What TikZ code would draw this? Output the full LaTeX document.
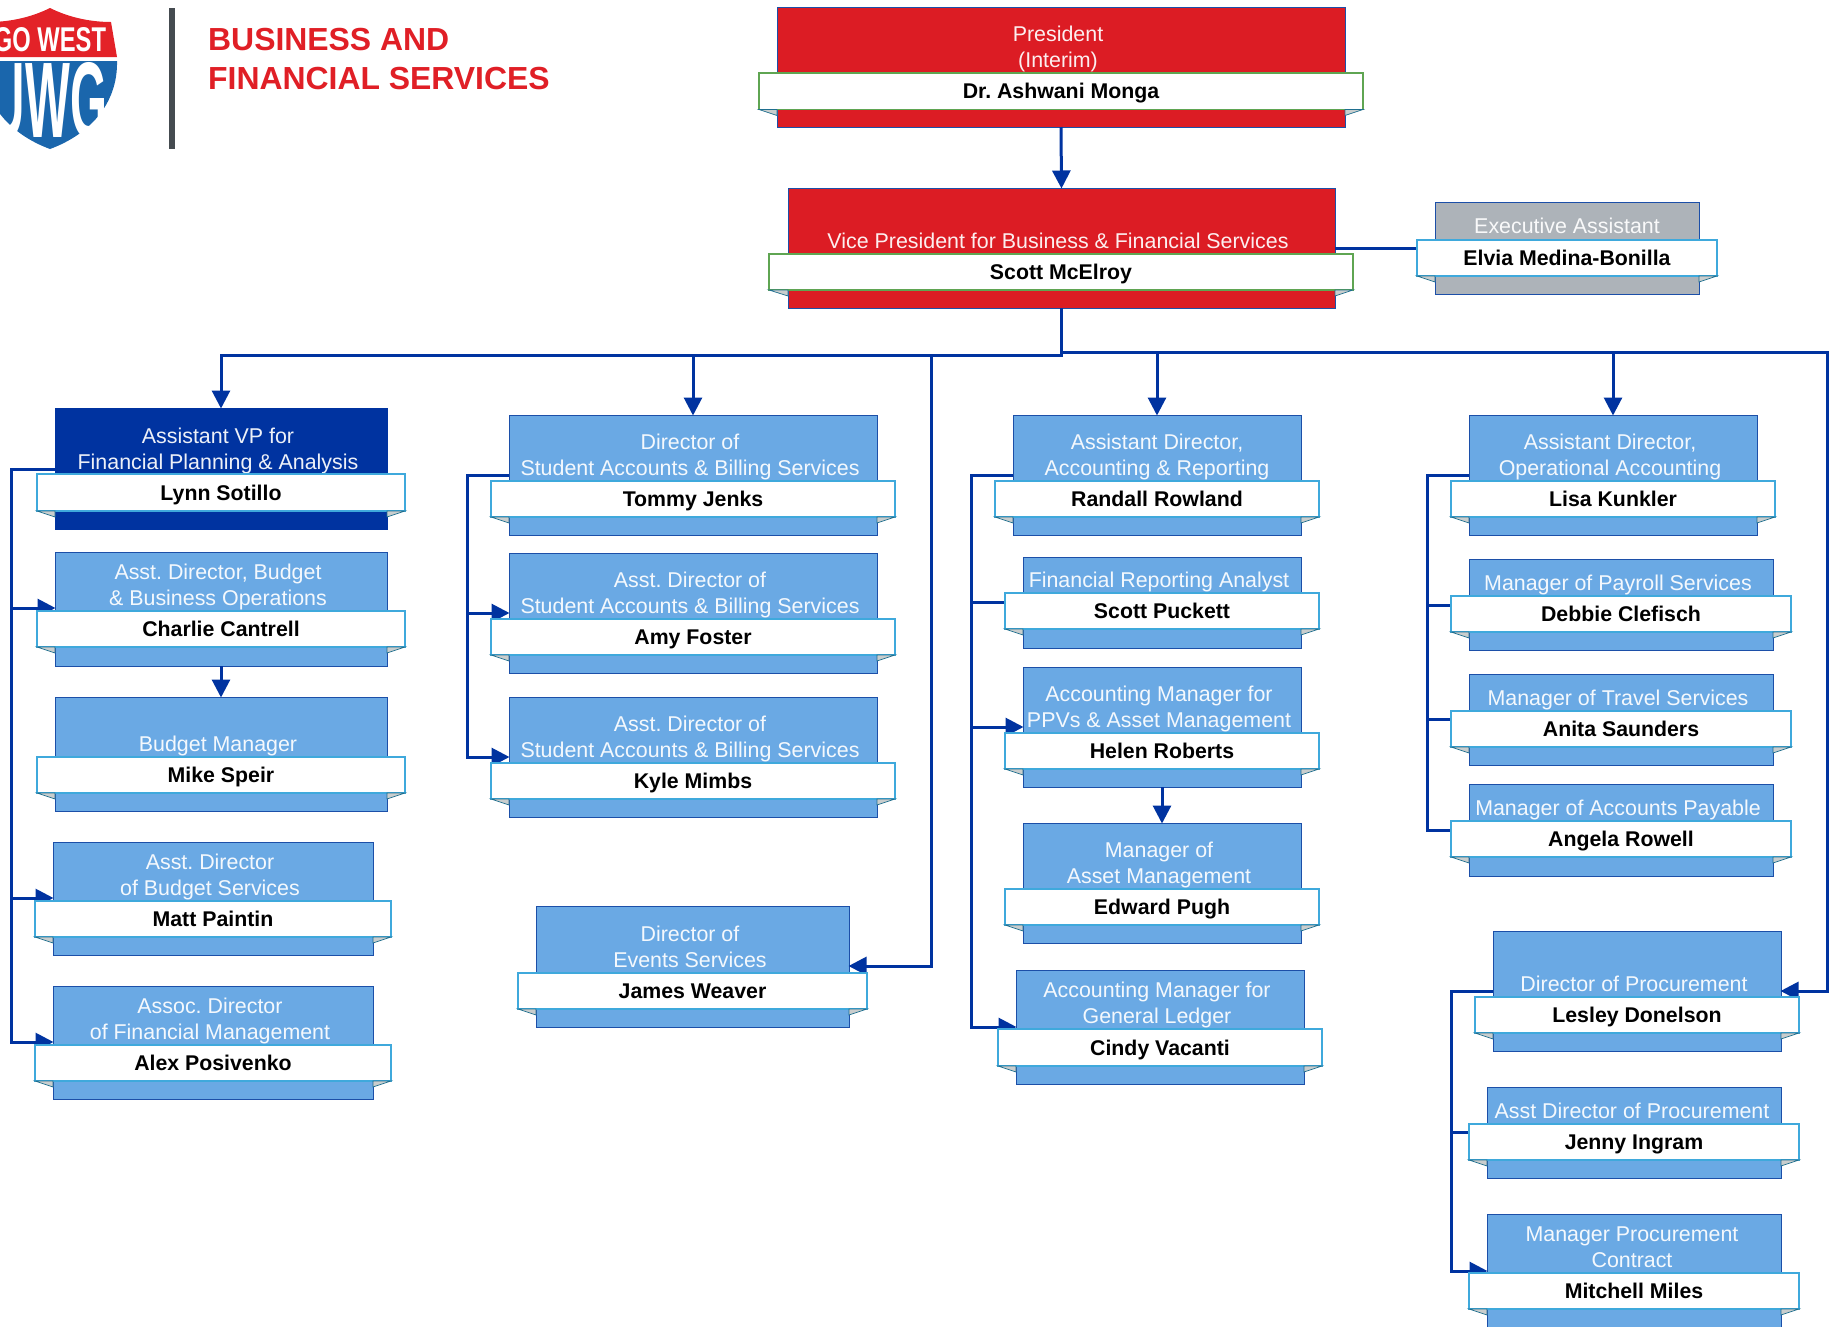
\documentclass[tikz,border=0pt]{standalone}
\usepackage{fontspec}
\usepackage{graphicx}
\setmainfont{Liberation Sans}
\usetikzlibrary{arrows.meta}
\pgfdeclarelayer{top}
\pgfsetlayers{main,top}
\definecolor{uwgred}{HTML}{DC1C24}
\definecolor{uwgnavy}{HTML}{0033A0}
\definecolor{uwgsky}{HTML}{6AA9E4}
\definecolor{uwggrey}{HTML}{ADB3B9}
\definecolor{edgeblue}{HTML}{1C4FA8}
\definecolor{ribbonblue}{HTML}{3FA9DC}
\definecolor{ribbongreen}{HTML}{5FA552}
\definecolor{foldgrey}{HTML}{C9CDCD}
\definecolor{foldedge}{HTML}{1F6F8F}
\definecolor{headred}{HTML}{E01F26}
\definecolor{shieldred}{HTML}{E32228}
\definecolor{shieldblue}{HTML}{1A66AC}
\definecolor{bargrey}{HTML}{454B50}
\tikzset{
  cardbox/.style={draw=edgeblue,line width=1pt,inner sep=0pt,outer sep=0pt},
  sky/.style={fill=uwgsky},
  navy/.style={fill=uwgnavy,draw=uwgnavy},
  redcard/.style={fill=uwgred},
  greycard/.style={fill=uwggrey},
  ribbon/.style={draw=ribbonblue,fill=white,line width=1.4pt,inner sep=0pt,outer sep=0pt,
    text=black,font=\fontsize{21.3}{26}\selectfont\bfseries,text height=15.5pt,text depth=.5pt},
  greenribbon/.style={draw=ribbongreen},
  blueribbon/.style={},
  titletext/.style={text=white,font=\fontsize{21.4}{26}\selectfont,align=center,anchor=base,inner sep=0pt,opacity=.93},
  fold/.style={fill=foldgrey,draw=foldedge,line width=.7pt},
  conn/.style={draw=uwgnavy,line width=3pt,miter limit=10},
  tip/.style={conn,-{Triangle[length=18pt,width=18pt]},shorten >=-.5pt},
}
\def\setB#1,#2,#3,#4;{\def\Bl{#1}\def\Br{#2}\def\Bt{#3}\def\Bb{#4}}
\def\setN#1,#2,#3,#4;{\def\Nl{#1}\def\Nr{#2}\def\Nt{#3}\def\Nb{#4}}
% id, card style, box l,r,t,b, ribbon l,r,t,b, ribbon style, title cx, title base, title, name
\newcommand\card[9]{%
  \setB#3;\setN#4;%
  \pgfmathsetmacro\Bw{\Br-\Bl}\pgfmathsetmacro\Bh{\Bb-\Bt}%
  \pgfmathsetmacro\Nw{\Nr-\Nl}\pgfmathsetmacro\Nh{\Nb-\Nt}%
  \node[cardbox,#2,minimum width=\Bw pt,minimum height=\Bh pt] (#1B) at ({(\Bl+\Br)/2},{(\Bt+\Bb)/2}) {};
  \node[titletext] (#1T) at (#6,#7) {#8};
  \begin{pgfonlayer}{top}
    \node[ribbon,#5,minimum width=\Nw pt,minimum height=\Nh pt] (#1N) at ({(\Nl+\Nr)/2},{(\Nt+\Nb)/2}) {#9};
    \draw[fold] (#1N.south west) -- (#1N.south west -| #1B.west) -- ++(0,6) -- cycle;
    \draw[fold] (#1N.south east) -- (#1N.south east -| #1B.east) -- ++(0,6) -- cycle;
  \end{pgfonlayer}}
\frenchspacing
\begin{document}
\begin{tikzpicture}[x=1pt,y=-1pt]
\useasboundingbox (0,0) rectangle (1829,1326);
% logo
\begin{scope}
\clip (0,0) rectangle (130,155);
\fill[shieldred] (50,8) .. controls (70,18) and (92,22) .. (111,22) -- (117,57) -- (-17,57) -- (-11,22) .. controls (8,22) and (30,18) .. (50,8) -- cycle;
\fill[shieldblue] (117,61) .. controls (118,105) and (88,135) .. (50,149) .. controls (12,135) and (-18,105) .. (-17,61) -- cycle;
\node[text=white,inner sep=0pt,anchor=center] (logoA) at (50,40) {\resizebox{112pt}{24pt}{\bfseries GO WEST}};
\node[text=white,inner sep=0pt,anchor=center] (logoB) at (49,100) {\resizebox{116pt}{75pt}{\bfseries UWG}};
\end{scope}
\fill[bargrey] (168.5,8) rectangle (175,149);
\node[text=headred,font=\fontsize{31.9}{39}\selectfont\bfseries,anchor=base west,inner sep=0pt,align=left] (head) at (208,89) {BUSINESS AND\\FINANCIAL SERVICES};
% cards
\card{pres}{redcard}{777,1345,7,127}{759,1363,73,109.5}{greenribbon}{1058}{67}{President\\(Interim)}{Dr. Ashwani Monga}
\card{vp}{redcard}{788,1335,188,308}{769,1353,254,290}{greenribbon}{1058}{248}{Vice President for Business \& Financial Services}{Scott McElroy}
\card{exec}{greycard}{1435,1699,202,294}{1417,1717,240,276}{blueribbon}{1567}{233}{Executive Assistant}{Elvia Medina-Bonilla}
\card{lynn}{navy}{55,387,408,529}{37,405,474,511}{blueribbon}{218}{469}{Assistant VP for\\Financial Planning \& Analysis}{Lynn Sotillo}
\card{charlie}{sky}{55,387,552,666}{37,405,611,647}{blueribbon}{218}{605}{Asst. Director, Budget\\\& Business Operations}{Charlie Cantrell}
\card{mike}{sky}{55,387,697,811}{37,405,757,793}{blueribbon}{218}{751}{Budget Manager}{Mike Speir}
\card{matt}{sky}{53,373,842,955}{35,391,901,937}{blueribbon}{210}{895}{Asst. Director\\of Budget Services}{Matt Paintin}
\card{alex}{sky}{53,373,986,1099}{35,391,1045,1081}{blueribbon}{210}{1039}{Assoc. Director\\of Financial Management}{Alex Posivenko}
\card{tommy}{sky}{509,877,415,535}{491,895,481,517}{blueribbon}{690}{475}{Director of\\Student Accounts \& Billing Services}{Tommy Jenks}
\card{amy}{sky}{509,877,553,673}{491,895,619,655}{blueribbon}{690}{613}{Asst. Director of\\Student Accounts \& Billing Services}{Amy Foster}
\card{kyle}{sky}{509,877,697,817}{491,895,763,799}{blueribbon}{690}{757}{Asst. Director of\\Student Accounts \& Billing Services}{Kyle Mimbs}
\card{james}{sky}{536,849,906,1027}{518,867,973,1009}{blueribbon}{690}{967}{Director of\\Events Services}{James Weaver}
\card{randall}{sky}{1013,1301,415,535}{995,1319,481,517}{blueribbon}{1157}{475}{Assistant Director,\\Accounting \& Reporting}{Randall Rowland}
\card{scottp}{sky}{1023,1301,557,648}{1005,1319,593,629}{blueribbon}{1159}{587}{Financial Reporting Analyst}{Scott Puckett}
\card{helen}{sky}{1023,1301,667,787}{1005,1319,733,769}{blueribbon}{1159}{727}{Accounting Manager for\\PPVs \& Asset Management}{Helen Roberts}
\card{edward}{sky}{1023,1301,823,943}{1005,1319,889,925}{blueribbon}{1159}{883}{Manager of\\Asset Management}{Edward Pugh}
\card{cindy}{sky}{1016,1304,970,1084}{998,1322,1029,1066}{blueribbon}{1157}{1023}{Accounting Manager for\\General Ledger}{Cindy Vacanti}
\card{lisa}{sky}{1469,1757,415,535}{1451,1775,481,517}{blueribbon}{1610}{475}{Assistant Director,\\Operational Accounting}{Lisa Kunkler}
\card{debbie}{sky}{1469,1773,559,650}{1451,1791,596,632}{blueribbon}{1618}{590}{Manager of Payroll Services}{Debbie Clefisch}
\card{anita}{sky}{1469,1773,674,765}{1451,1791,711,747}{blueribbon}{1618}{705}{Manager of Travel Services}{Anita Saunders}
\card{angela}{sky}{1469,1773,784,876}{1451,1791,821,857}{blueribbon}{1618}{815}{Manager of Accounts Payable}{Angela Rowell}
\card{lesley}{sky}{1493,1781,931,1051}{1475,1799,997,1033}{blueribbon}{1634}{991}{Director of Procurement}{Lesley Donelson}
\card{jenny}{sky}{1487,1781,1087,1178}{1469,1799,1124,1160}{blueribbon}{1632}{1118}{Asst Director of Procurement}{Jenny Ingram}
\card{mitchell}{sky}{1487,1781,1214,1335}{1469,1799,1273,1309}{blueribbon}{1632}{1267}{Manager Procurement\\Contract}{Mitchell Miles}
% junctions
\coordinate (busL) at (1061.5,355);
\coordinate (busR) at (1061.5,352);
\coordinate (eventsC) at (931,966);
\coordinate (procC) at (1827.5,991);
\coordinate (execJ) at (1400,248);
\coordinate (a0) at (11,469); \coordinate (a1) at (11,608); \coordinate (a2) at (11,898); \coordinate (a3) at (11,1042);
\coordinate (b0) at (467,475); \coordinate (b1) at (467,613); \coordinate (b2) at (467,757);
\coordinate (c0) at (971,475); \coordinate (c1) at (971,602); \coordinate (c2) at (971,727); \coordinate (c3) at (971,1027);
\coordinate (d0) at (1427,475); \coordinate (d1) at (1427,605); \coordinate (d2) at (1427,719); \coordinate (d3) at (1427,830);
\coordinate (e0) at (1451,991); \coordinate (e1) at (1451,1132); \coordinate (e2) at (1451,1271);
% top connectors
\draw[tip] (presB.south) -- (vpB.north);
\draw[conn] (vpB.east |- execJ) -- (execN.west |- execJ);
\draw[tip] (vpB.south) -- (busL) -| (lynnB.north);
\draw[tip] (busL) -| (tommyB.north);
\draw[tip] (vpB.south) -- (busR) -| (randallB.north);
\draw[tip] (busR) -| (lisaB.north);
\draw[tip] (busL) -| (eventsC) -- (jamesB.east |- eventsC);
\draw[tip] (busR) -| (procC) -- (lesleyB.east |- procC);
% column 1
\draw[tip] (lynnB.west |- a0) -- (a0) -- (a3) -- (alexB.west |- a3);
\draw[tip] (a1) -- (charlieB.west |- a1);
\draw[tip] (a2) -- (mattB.west |- a2);
\draw[tip] (charlieB.south) -- (mikeB.north);
% column 2
\draw[tip] (tommyB.west |- b0) -- (b0) -- (b2) -- (kyleB.west |- b2);
\draw[tip] (b1) -- (amyB.west |- b1);
% column 3
\draw[tip] (randallB.west |- c0) -- (c0) -- (c3) -- (cindyB.west |- c3);
\draw[conn] (c1) -- (scottpN.west |- c1);
\draw[tip] (c2) -- (helenB.west |- c2);
\draw[tip] (helenB.south) -- (edwardB.north);
% column 4
\draw[conn] (lisaB.west |- d0) -- (d0) -- (d3) -- (angelaN.west |- d3);
\draw[conn] (d1) -- (debbieN.west |- d1);
\draw[conn] (d2) -- (anitaN.west |- d2);
% procurement
\draw[tip] (lesleyB.west |- e0) -- (e0) -- (e2) -- (mitchellB.west |- e2);
\draw[conn] (e1) -- (jennyN.west |- e1);
\end{tikzpicture}
\end{document}
